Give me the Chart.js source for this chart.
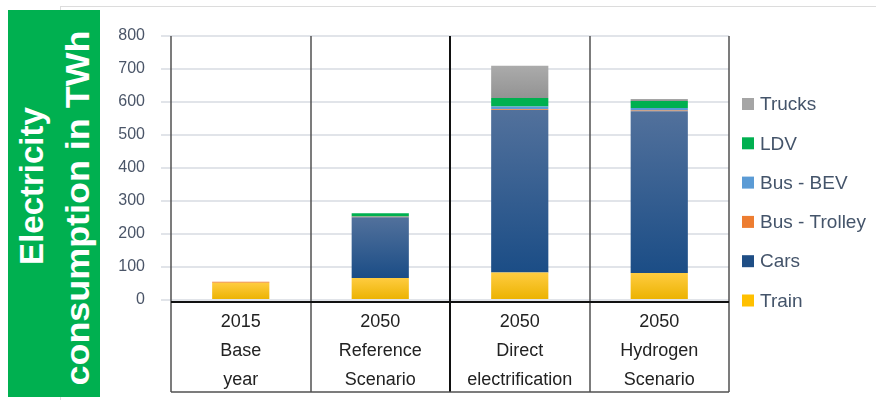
<!DOCTYPE html>
<html><head><meta charset="utf-8">
<script src="https://cdn.jsdelivr.net/npm/chart.js@4.4.0/dist/chart.umd.min.js"></script>
<style>
html,body{margin:0;padding:0;background:#fff;}
#wrap{position:relative;width:876px;height:400px;overflow:hidden;background:#fff;}
#frame{position:absolute;left:60px;top:6px;width:840px;height:420px;border:1px solid #dcdcdc;}
canvas{position:absolute;left:0;top:0;}
svg{position:absolute;left:0;top:0;}
</style></head>
<body>
<div id="wrap">
<div id="frame"></div>
<canvas id="c" width="876" height="400"></canvas>
<svg width="110" height="400" xmlns="http://www.w3.org/2000/svg">
  <rect x="8" y="10" width="92" height="387" fill="#00b050"/>
  <text transform="translate(43,186) rotate(-90)" text-anchor="middle" font-family="Liberation Sans" font-weight="bold" font-size="33" fill="#ffffff">Electricity</text>
  <text transform="translate(89,208) rotate(-90)" text-anchor="middle" font-family="Liberation Sans" font-weight="bold" font-size="33" fill="#ffffff" textLength="355" lengthAdjust="spacingAndGlyphs">consumption in TWh</text>
</svg>
</div>
<script>
const categories = [
  ['2015', 'Base', 'year'],
  ['2050', 'Reference', 'Scenario'],
  ['2050', 'Direct', 'electrification'],
  ['2050', 'Hydrogen', 'Scenario']
];
const train   = [52, 67, 83, 82];
const cars    = [0, 184, 493, 490];
const trolley = [3, 1, 2, 2];
const bev     = [0, 1, 8, 8];
const ldv     = [0, 10, 26, 21];
const trucks  = [0, 0, 98, 6];
const yTicks  = [0, 100, 200, 300, 400, 500, 600, 700, 800];

function grad(top, bottom, fallback) {
  return function (ctx) {
    const chart = ctx.chart;
    if (!chart.chartArea || ctx.type !== 'data' || !chart.scales.y) return fallback;
    const y = chart.scales.y;
    const d = ctx.datasetIndex, i = ctx.dataIndex;
    let base = 0;
    for (let k = 0; k < d; k++) base += chart.data.datasets[k].data[i];
    const v = chart.data.datasets[d].data[i];
    const y0 = y.getPixelForValue(base + v), y1 = y.getPixelForValue(base);
    if (!isFinite(y0) || !isFinite(y1) || y1 - y0 < 1) return fallback;
    const g = chart.ctx.createLinearGradient(0, y0, 0, y1);
    g.addColorStop(0, top);
    g.addColorStop(1, bottom);
    return g;
  };
}

const datasets = [
  { label: 'Train', data: train, legendColor: '#ffc000', backgroundColor: grad('#ffcc40', '#ebb200', '#ffc000') },
  { label: 'Cars', data: cars, legendColor: '#1f4e85', backgroundColor: grad('#52719c', '#1b4d86', '#255e91') },
  { label: 'Bus - Trolley', data: trolley, legendColor: '#ed7d31', backgroundColor: '#ed7d31' },
  { label: 'Bus - BEV', data: bev, legendColor: '#5b9bd5', backgroundColor: '#5b9bd5' },
  { label: 'LDV', data: ldv, legendColor: '#00b050', backgroundColor: '#00b050' },
  { label: 'Trucks', data: trucks, legendColor: '#a5a5a5', backgroundColor: grad('#ababab', '#939393', '#a5a5a5') }
];

const tablePlugin = {
  id: 'tablePlugin',
  beforeDatasetsDraw(chart) {
    const { ctx, chartArea } = chart;
    const xs = chart.scales.x;
    const n = chart.data.labels.length;
    const bottom = xs.bottom - 8;
    ctx.save();
    for (let i = 0; i <= n; i++) {
      const x = Math.round(xs.getPixelForValue(i - 0.5));
      ctx.beginPath();
      ctx.strokeStyle = (i === 2) ? '#111111' : '#505050';
      ctx.lineWidth = (i === 2) ? 2 : 1.5;
      ctx.moveTo(x, chartArea.top);
      ctx.lineTo(x, bottom);
      ctx.stroke();
    }
    ctx.beginPath();
    ctx.strokeStyle = '#505050';
    ctx.lineWidth = 1.5;
    ctx.moveTo(xs.getPixelForValue(-0.5), bottom);
    ctx.lineTo(xs.getPixelForValue(n - 0.5), bottom);
    ctx.stroke();
    ctx.restore();
  },
  afterDatasetsDraw(chart) {
    const { ctx, chartArea } = chart;
    const y0 = chart.scales.y.getPixelForValue(0) + 2;
    ctx.save();
    ctx.beginPath();
    ctx.strokeStyle = '#111111';
    ctx.lineWidth = 2;
    ctx.moveTo(chartArea.left, y0);
    ctx.lineTo(chartArea.right, y0);
    ctx.stroke();
    ctx.restore();
  },
  afterDraw(chart) {
    const { ctx } = chart;
    const items = chart.data.datasets.slice().reverse();
    ctx.save();
    ctx.font = '19px "Liberation Sans"';
    ctx.textBaseline = 'middle';
    ctx.textAlign = 'left';
    items.forEach((ds, k) => {
      const cy = 104 + k * 39.3;
      ctx.fillStyle = ds.legendColor;
      ctx.fillRect(742, cy - 6, 12, 12);
      ctx.fillStyle = '#44546a';
      ctx.fillText(ds.label, 760, cy + 1);
    });
    ctx.restore();
  }
};

new Chart(document.getElementById('c'), {
  type: 'bar',
  data: { labels: categories, datasets: datasets },
  options: {
    responsive: false,
    animation: false,
    layout: { padding: { left: 100, top: 36, right: 147, bottom: 0 } },
    plugins: { legend: { display: false }, tooltip: { enabled: false } },
    datasets: { bar: { barPercentage: 0.41, categoryPercentage: 1.0, borderWidth: 0 } },
    scales: {
      x: {
        stacked: true,
        grid: { display: false },
        border: { display: false },
        ticks: { color: '#222222', font: { family: 'Liberation Sans', size: 18, lineHeight: 1.61 }, padding: 0, maxRotation: 0, autoSkip: false },
        afterFit(scale) { scale.height = 100; }
      },
      y: {
        stacked: true,
        min: 0, max: 800,
        afterBuildTicks(scale) { scale.ticks = yTicks.map(v => ({ value: v })); },
        grid: { color: '#e1e4e9', lineWidth: 2, tickLength: 10, tickColor: '#e1e4e9' },
        border: { display: false },
        ticks: { color: '#4a5568', font: { family: 'Liberation Sans', size: 16 }, padding: 16 },
        afterFit(scale) { scale.width = 71; }
      }
    }
  },
  plugins: [tablePlugin]
});
</script>
</body></html>
